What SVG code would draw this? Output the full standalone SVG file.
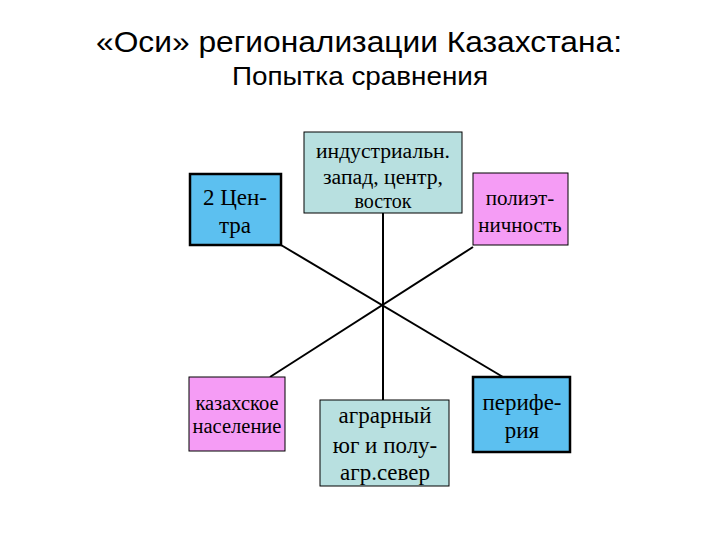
<svg xmlns="http://www.w3.org/2000/svg" width="720" height="540" viewBox="0 0 720 540">
<style>
.t{font-family:"Liberation Sans",Arial,sans-serif;fill:#000;text-anchor:middle}
.b{font-family:"Liberation Serif","Times New Roman",serif;fill:#000;text-anchor:middle}
.blue{fill:#5cc0f0;stroke:#000;stroke-width:2.5}
.teal{fill:#b8e0e0;stroke:#000;stroke-width:1}
.pink{fill:#f59cf5;stroke:#000;stroke-width:1}
.c{stroke:#000;stroke-width:2;fill:none}
</style>
<rect width="720" height="540" fill="#fff"/>
<g id="title">
<text class="t" x="359" y="52" font-size="30" textLength="526" lengthAdjust="spacingAndGlyphs">«Оси» регионализации Казахстана:</text>
<text class="t" x="360" y="85" font-size="26" textLength="256" lengthAdjust="spacingAndGlyphs">Попытка сравнения</text>
</g>
<g id="connectors">
<line class="c" x1="281" y1="245" x2="503" y2="377"/>
<line class="c" x1="473" y1="247" x2="270" y2="377"/>
<line class="c" x1="383" y1="213" x2="383" y2="400"/>
</g>
<g id="n-centers">
<rect class="blue" x="190" y="174" width="91" height="71"/>
<text class="b" x="235" y="205" font-size="23">2 Цен-</text>
<text class="b" x="235" y="233" font-size="23">тра</text>
</g>
<g id="n-industrial">
<rect class="teal" x="304" y="132" width="158" height="81"/>
<text class="b" x="383" y="158" font-size="20" textLength="134" lengthAdjust="spacingAndGlyphs">индустриальн.</text>
<text class="b" x="383" y="184" font-size="20" textLength="120" lengthAdjust="spacingAndGlyphs">запад, центр,</text>
<text class="b" x="383" y="208" font-size="20">восток</text>
</g>
<g id="n-poly">
<rect class="pink" x="473" y="173" width="95" height="72"/>
<text class="b" x="520" y="205" font-size="21">полиэт-</text>
<text class="b" x="520" y="232" font-size="21">ничность</text>
</g>
<g id="n-kazakh">
<rect class="pink" x="189" y="377" width="96" height="74"/>
<text class="b" x="237" y="410" font-size="20.5">казахское</text>
<text class="b" x="237" y="433" font-size="20.5">население</text>
</g>
<g id="n-agrarian">
<rect class="teal" x="320" y="400" width="129" height="86"/>
<text class="b" x="385" y="423" font-size="23">аграрный</text>
<text class="b" x="385" y="453" font-size="23">юг и полу-</text>
<text class="b" x="385" y="480" font-size="23">агр.север</text>
</g>
<g id="n-periphery">
<rect class="blue" x="473" y="377" width="97" height="75"/>
<text class="b" x="522" y="410" font-size="23">перифе-</text>
<text class="b" x="522" y="438" font-size="23">рия</text>
</g>
</svg>
